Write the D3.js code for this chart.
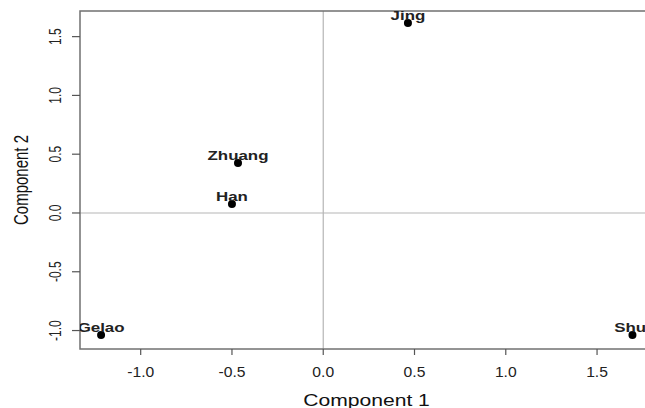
<!DOCTYPE html>
<html>
<head>
<meta charset="utf-8">
<script src="https://cdn.jsdelivr.net/npm/d3@7"></script>
<style>
  body { margin: 0; background: #fff; }
  text { font-family: "Liberation Sans", Arial, sans-serif; }
</style>
</head>
<body>
<div id="chart"></div>
<script>
// data
const groups = ["Jing", "Zhuang", "Han", "Gelao", "Shui"];
const comp1 = [0.464, -0.467, -0.50, -1.217, 1.694];
const comp2 = [1.616, 0.425, 0.077, -1.037, -1.037];

const xTicks = [-1.0, -0.5, 0.0, 0.5, 1.0, 1.5];
const xTickLabels = ["-1.0", "-0.5", "0.0", "0.5", "1.0", "1.5"];
const yTicks = [-1.0, -0.5, 0.0, 0.5, 1.0, 1.5];
const yTickLabels = ["-1.0", "-0.5", "0.0", "0.5", "1.0", "1.5"];

const width = 645, height = 408;
const plot = { left: 80, right: 653, top: 11, bottom: 349 };
const sx = 1.3; // the picture is stretched sideways

const x = d3.scaleLinear().domain([-1.3325, 1.8065]).range([plot.left, plot.right]);
const y = d3.scaleLinear().domain([-1.157, 1.718]).range([plot.bottom, plot.top]);

const svg = d3.select("#chart").append("svg")
    .attr("width", width)
    .attr("height", height);

svg.append("clipPath").attr("id", "clip")
  .append("rect")
    .attr("x", plot.left).attr("y", plot.top)
    .attr("width", plot.right - plot.left).attr("height", plot.bottom - plot.top);

// zero reference lines
svg.append("line")
    .attr("x1", x(0)).attr("x2", x(0))
    .attr("y1", plot.top).attr("y2", plot.bottom)
    .attr("stroke", "#b5b5b5").attr("stroke-width", 1.2);
svg.append("line")
    .attr("x1", plot.left).attr("x2", plot.right)
    .attr("y1", y(0)).attr("y2", y(0))
    .attr("stroke", "#b5b5b5").attr("stroke-width", 1.2);

// box
svg.append("rect")
    .attr("x", plot.left).attr("y", plot.top)
    .attr("width", plot.right - plot.left).attr("height", plot.bottom - plot.top)
    .attr("fill", "none").attr("stroke", "#707070").attr("stroke-width", 1.5);

// x axis
const xAxis = svg.append("g");
xAxis.selectAll("line.tick").data(xTicks).join("line")
    .attr("x1", d => x(d)).attr("x2", d => x(d))
    .attr("y1", plot.bottom).attr("y2", plot.bottom + 6)
    .attr("stroke", "#555").attr("stroke-width", 1.2);
xAxis.selectAll("text").data(xTicks).join("text")
    .attr("transform", d => `translate(${x(d)},377) scale(1.12,1)`)
    .attr("text-anchor", "middle")
    .attr("font-size", 14)
    .attr("fill", "#222")
    .text((d, i) => xTickLabels[i]);

// y axis
const yAxis = svg.append("g");
yAxis.selectAll("line.tick").data(yTicks).join("line")
    .attr("x1", plot.left - 8).attr("x2", plot.left)
    .attr("y1", d => y(d)).attr("y2", d => y(d))
    .attr("stroke", "#555").attr("stroke-width", 1.2);
yAxis.selectAll("text").data(yTicks).join("text")
    .attr("transform", d => `translate(61,${y(d)}) scale(1.35,1) rotate(-90)`)
    .attr("text-anchor", "middle")
    .attr("font-size", 12)
    .attr("fill", "#222")
    .text((d, i) => yTickLabels[i]);

// axis titles
svg.append("text")
    .attr("transform", `translate(${(plot.left + plot.right) / 2},406) scale(1.28,1)`)
    .attr("text-anchor", "middle")
    .attr("font-size", 16.5)
    .attr("fill", "#111")
    .text("Component 1");
svg.append("text")
    .attr("transform", `translate(28,${(plot.top + plot.bottom) / 2}) scale(1.35,1) rotate(-90)`)
    .attr("text-anchor", "middle")
    .attr("font-size", 15)
    .attr("fill", "#111")
    .text("Component 2");

// points and labels
const pts = svg.append("g").attr("clip-path", "url(#clip)");
const rows = groups.map((g, i) => ({ name: g, c1: comp1[i], c2: comp2[i] }));

pts.selectAll("circle").data(rows).join("circle")
    .attr("cx", d => x(d.c1))
    .attr("cy", d => y(d.c2))
    .attr("r", 4)
    .attr("fill", "#000");

pts.selectAll("text").data(rows).join("text")
    .attr("transform", d => `translate(${x(d.c1)},${y(d.c2) - 3}) scale(${sx},1)`)
    .attr("text-anchor", "middle")
    .attr("font-size", 13)
    .attr("font-weight", "bold")
    .attr("fill", "#222")
    .text(d => d.name);
</script>
</body>
</html>
